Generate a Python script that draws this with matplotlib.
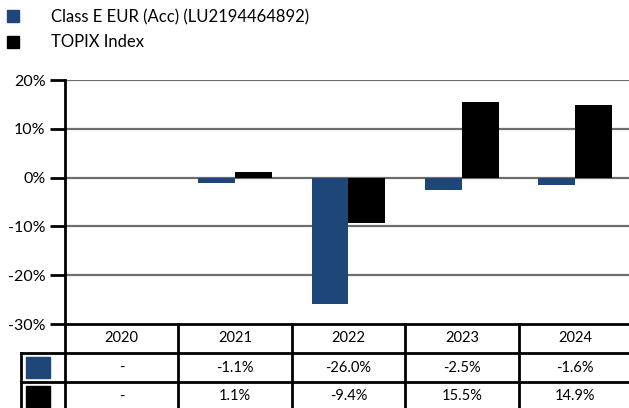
import matplotlib.pyplot as plt
import numpy as np
from matplotlib.patches import Patch, Rectangle

plt.rcParams['font.family'] = ['Lato', 'DejaVu Sans']

# yearly returns in %, None where there is no figure
years = ['2020', '2021', '2022', '2023', '2024']
fund_returns = [None, -1.1, -26.0, -2.5, -1.6]
index_returns = [None, 1.1, -9.4, 15.5, 14.9]
fund_name = 'Class E EUR (Acc) (LU2194464892)'
index_name = 'TOPIX Index'
yticks = [-30, -20, -10, 0, 10, 20]

blue = '#1f4678'
black = '#000000'
W, H = 629, 408

fig = plt.figure(figsize=(W / 100, H / 100), dpi=100)

# pixel box of the bar area
left_px, right_px, top_px, bot_px = 65, 632, 80, 324
ax = fig.add_axes([left_px / W, 1 - bot_px / H, (right_px - left_px) / W, (bot_px - top_px) / H])

x = np.arange(len(years))
w = 0.325
fund_vals = np.array([np.nan if v is None else v for v in fund_returns])
index_vals = np.array([np.nan if v is None else v for v in index_returns])
ax.bar(x - w / 2, fund_vals, w, color=blue, zorder=3)
ax.bar(x + w / 2, index_vals, w, color=black, zorder=3)

ax.set_xlim(-0.5, len(years) - 0.5)
ax.set_ylim(-30, 20)
ax.set_yticks(yticks)
ax.set_yticklabels([f'{t}%' for t in yticks], fontsize=11.5)
ax.set_xticks([])
for t in yticks[1:]:
    ax.axhline(t, color='#6e6e6e', lw=1.6, zorder=1)
ax.tick_params(axis='y', length=11, width=2, pad=3, direction='out')
for s in ['top', 'right', 'bottom']:
    ax.spines[s].set_visible(False)
ax.spines['left'].set_linewidth(2)
ax.spines['left'].set_zorder(4)

# table below the bars
row_h = 29
tab_left_px = 21
cat_px = (right_px - left_px) / len(years)
tx0 = -0.5 - (left_px - tab_left_px) / cat_px
tax = fig.add_axes([tab_left_px / W, 1 - (bot_px + 3 * row_h) / H,
                    (right_px - tab_left_px) / W, 3 * row_h / H])
tax.set_xlim(tx0, len(years) - 0.5)
tax.set_ylim(3, 0)
tax.axis('off')

lw = 2
# horizontal rules
tax.plot([-0.5, len(years) - 0.5], [0, 0], color='k', lw=lw, clip_on=False)
for r in [1, 2]:
    tax.plot([tx0, len(years) - 0.5], [r, r], color='k', lw=lw, clip_on=False)
# vertical rules
tax.plot([tx0, tx0], [1, 3], color='k', lw=lw, clip_on=False)
for i in range(len(years) + 1):
    tax.plot([i - 0.5, i - 0.5], [0, 3], color='k', lw=lw, clip_on=False)

for i, yr in enumerate(years):
    tax.text(i, 0.5, yr, ha='center', va='center', fontsize=10.5)
for row, vals in [(1, fund_returns), (2, index_returns)]:
    for i, v in enumerate(vals):
        label = '-' if v is None else f'{v:.1f}%'
        tax.text(i, row + 0.5, label, ha='center', va='center', fontsize=10.5)

# colour keys in the first column
key_w = 24 / cat_px
for row, c in [(1, blue), (2, black)]:
    tax.add_patch(Rectangle((tx0 + 5 / cat_px, row + 0.14), key_w, 0.72, color=c))

fig.legend(handles=[Patch(color=blue), Patch(color=black)],
           labels=[fund_name, index_name], loc='upper left',
           bbox_to_anchor=(7 / W, 1 - 9 / H), frameon=False, fontsize=12,
           handlelength=0.72, handleheight=0.72, handletextpad=1.9,
           labelspacing=0.56, borderaxespad=0, borderpad=0)

fig.savefig('out.png', dpi=100)
